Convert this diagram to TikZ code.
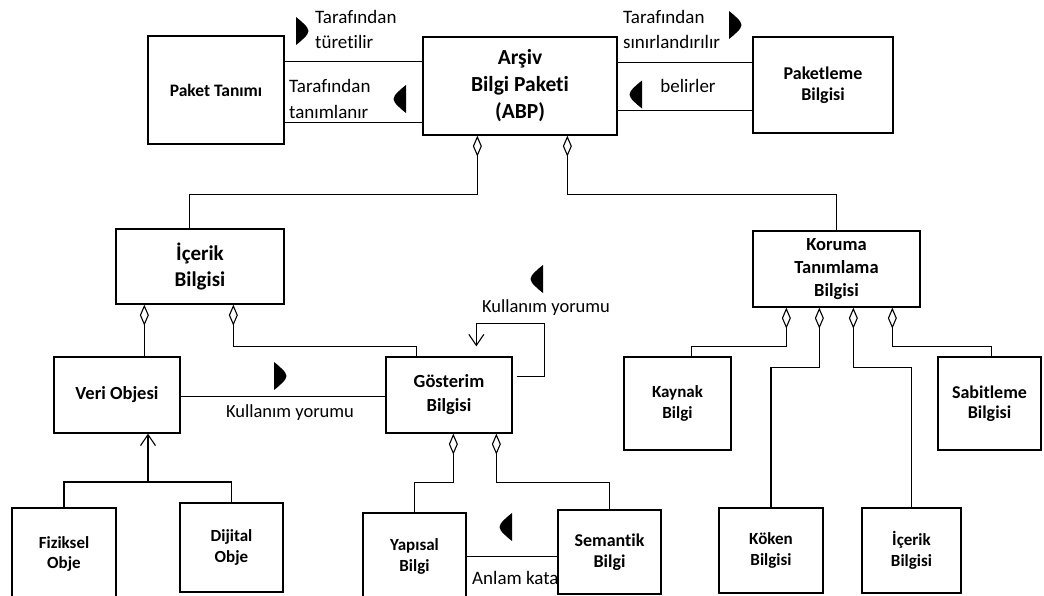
\documentclass[tikz,border=0pt]{standalone}
\usepackage{fontspec}
\setmainfont[Ligatures=NoCommon]{Carlito}
\usetikzlibrary{arrows.meta}
\tikzset{
  box/.style={draw, line width=1.3pt, fill=white, inner sep=0pt, align=center,
    font=\bfseries\fontsize{17}{20.5}\selectfont},
  link/.style={line width=1.1pt},
  agg/.style={link, {Diamond[open,length=21pt,width=9pt]}-},
  opentip/.style={link, -{Straight Barb[length=11pt,width=15pt]}},
  lbl/.style={inner sep=0pt, align=left, font=\fontsize{19}{25}\selectfont},
  rmark/.pic={\fill (0,-14) -- (0,14) .. controls (5,10) and (12.5,4) .. (12.5,0)
    .. controls (12.5,-4) and (5,-10) .. (0,-14) -- cycle;}
}
\begin{document}
\begin{tikzpicture}[x=1pt,y=-1pt]
\clip (0,0) rectangle (1044,595);
\fill[white] (0,0) rectangle (1044,595);

% boxes
\node[box, minimum width=194pt, minimum height=98pt,
  font=\bfseries\fontsize{21.5}{27}\selectfont] (abp) at (520,86) {Arşiv\\Bilgi Paketi\\(ABP)};
\node[box, minimum width=136pt, minimum height=108pt,
  font=\bfseries\fontsize{17.5}{21}\selectfont] (pkt) at (216,90) {Paket Tanımı};
\node[box, minimum width=140pt, minimum height=96pt,
  font=\bfseries\fontsize{18}{21}\selectfont] (pkb) at (823,85) {Paketleme\\Bilgisi};
\node[box, minimum width=168pt, minimum height=75pt,
  font=\bfseries\fontsize{21}{26}\selectfont] (icr) at (200,266.5) {İçerik\\Bilgisi};
\node[box, minimum width=167pt, minimum height=76pt,
  font=\bfseries\fontsize{18.5}{23}\selectfont] (kor) at (836.5,269) {Koruma\\Tanımlama\\Bilgisi};
\node[box, minimum width=126pt, minimum height=76pt,
  font=\bfseries\fontsize{18.5}{24}\selectfont] (veri) at (117,395) {Veri Objesi};
\node[box, minimum width=126pt, minimum height=76pt,
  font=\bfseries\fontsize{18.5}{24}\selectfont] (gos) at (449,395) {Gösterim\\Bilgisi};
\node[box, minimum width=107pt, minimum height=93pt] (kay) at (677.5,403.5) {Kaynak\\Bilgi};
\node[box, minimum width=103pt, minimum height=93pt,
  font=\bfseries\fontsize{18}{20.5}\selectfont] (sab) at (989.5,403.5) {Sabitleme\\Bilgisi};
\node[box, minimum width=104pt, minimum height=92pt] (fiz) at (64,554) {Fiziksel\\Obje};
\node[box, minimum width=103pt, minimum height=89pt] (dij) at (231.5,547.5) {Dijital\\Obje};
\node[box, minimum width=103pt, minimum height=87pt] (yap) at (414.5,556.5) {Yapısal\\Bilgi};
\node[box, minimum width=104pt, minimum height=85pt] (kok) at (771,550.5) {Köken\\Bilgisi};
\node[box, minimum width=99pt, minimum height=85pt] (ic2) at (911.5,550.5) {İçerik\\Bilgisi};

% label running under the Semantik box edge
\node[lbl, anchor=west] (t7) at (472,578) {Anlam katar};
\node[box, minimum width=103pt, minimum height=84pt,
  font=\bfseries\fontsize{18}{20.5}\selectfont] (sem) at (609.5,552) {Semantik\\Bilgi};

% associations of the package
\draw[link] ([yshift=-26pt]pkt.north east) coordinate (a1) -- (a1 -| abp.west);
\draw[link] ([yshift=-87pt]pkt.north east) coordinate (a2) -- (a2 -| abp.west);
\draw[link] ([yshift=-26pt]abp.north east) coordinate (a3) -- (a3 -| pkb.west);
\draw[link] ([yshift=-74pt]abp.north east) coordinate (a4) -- (a4 -| pkb.west);

% aggregations
\draw[agg] ([xshift=55pt]abp.south west) -- ++(0,59) -| ([xshift=74pt]icr.north west);
\draw[agg] ([xshift=145pt]abp.south west) -- ++(0,59) -| ([xshift=84pt]kor.north west);
\draw[agg] ([xshift=29pt]icr.south west) coordinate (b1) -- (b1 |- veri.north);
\draw[agg] ([xshift=118pt]icr.south west) -- ++(0,42) -| ([xshift=31pt]gos.north west);
\draw[agg] ([xshift=68pt]gos.south west) -- ++(0,49) -| (yap.north);
\draw[agg] ([xshift=111pt]gos.south west) -- ++(0,49) -| (sem.north);
\draw[agg] ([xshift=34pt]kor.south west) -- ++(0,39) -| ([xshift=68pt]kay.north west);
\draw[agg] ([xshift=67pt]kor.south west) -- ++(0,60) -| (kok.north);
\draw[agg] ([xshift=101pt]kor.south west) -- ++(0,60) -| (ic2.north);
\draw[agg] ([xshift=140pt]kor.south west) -- ++(0,39) -| ([xshift=54pt]sab.north west);

% usage interpretation links
\draw[link] ([yshift=-40pt]veri.north east) coordinate (c1) -- (c1 -| gos.west);
\draw[opentip, shorten >=10pt] ([xshift=4pt,yshift=-20pt]gos.north east) -- ++(28,0)
  -- ++(0,-53) -| ([xshift=91pt]gos.north west);
\draw[link] ([yshift=-44pt]yap.north east) coordinate (c2) -- (c2 -| sem.west);

% generalisation of the data object
\coordinate (vj) at (148,482);
\draw[link] (fiz.north) |- (vj) -| (dij.north);
\draw[opentip] (vj) -- (vj |- veri.south);

% texts on the connectors
\node[lbl, anchor=west] (t1) at (315,29.5) {Tarafından\\türetilir};
\node[lbl, anchor=west, font=\fontsize{19}{26}\selectfont] (t2) at (289,99) {Tarafından\\tanımlanır};
\node[lbl, anchor=west] (t3) at (623,29.5) {Tarafından\\sınırlandırılır};
\node[lbl] (t4) at (688,86) {belirler};
\node[lbl, font=\fontsize{18.5}{23}\selectfont] (t5) at (290,413) {Kullanım yorumu};
\node[lbl, font=\fontsize{18.5}{23}\selectfont] (t6) at (546,308) {Kullanım yorumu};

% reading direction marks
\path (296,31) pic{rmark};
\path (406,99) pic[xscale=-1]{rmark};
\path (729,25) pic{rmark};
\path (642,94.5) pic[xscale=-1]{rmark};
\path (274,376) pic{rmark};
\path (543,279) pic[xscale=-1]{rmark};
\path (512,527) pic[xscale=-1]{rmark};
\end{tikzpicture}
\end{document}
